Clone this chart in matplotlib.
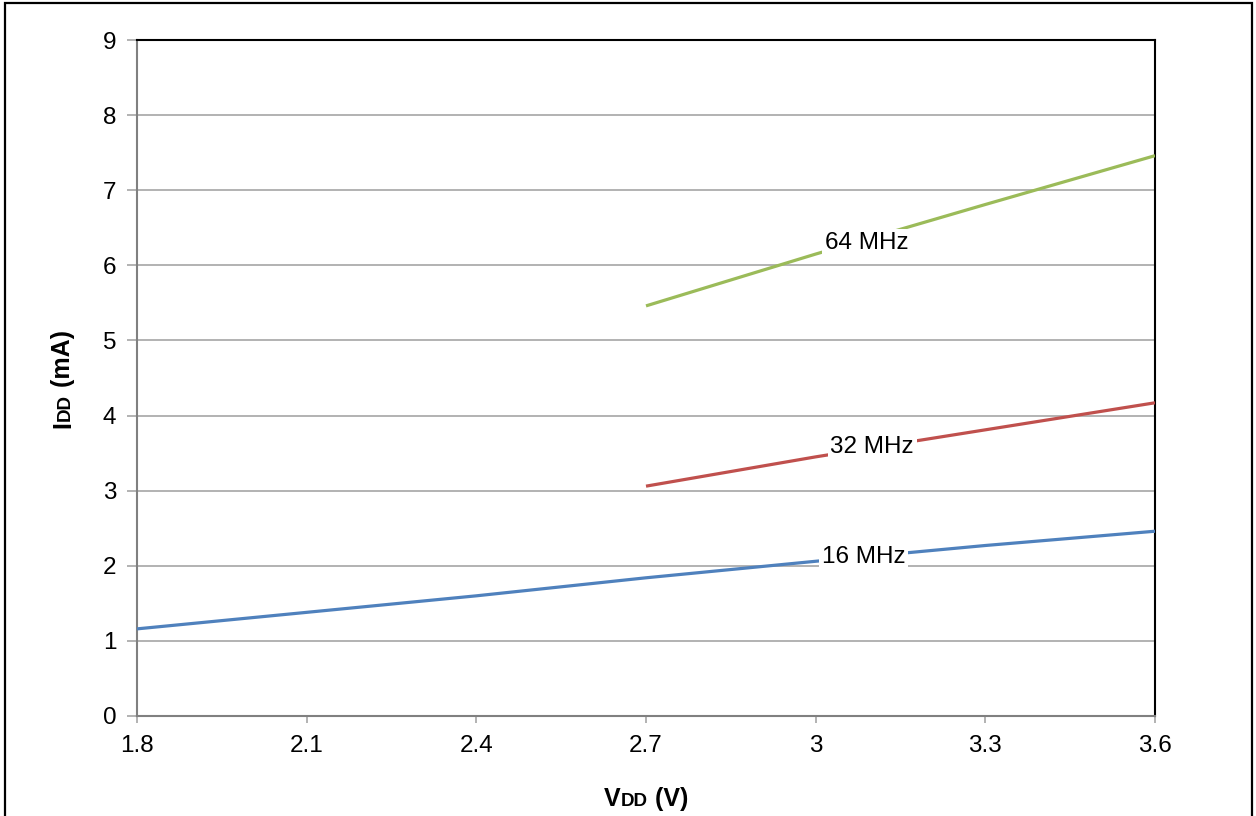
import matplotlib.pyplot as plt
from matplotlib.patches import Rectangle

plt.rcParams['font.family'] = ['Liberation Sans', 'DejaVu Sans']

# supply voltage (V) and supply current (mA)
vdd_16 = [1.8, 2.1, 2.4, 2.7, 3.0, 3.3, 3.6]
idd_16 = [1.16, 1.38, 1.60, 1.84, 2.06, 2.27, 2.46]

vdd_32 = [2.7, 3.0, 3.3, 3.6]
idd_32 = [3.06, 3.45, 3.81, 4.17]

vdd_64 = [2.7, 3.0, 3.3, 3.6]
idd_64 = [5.46, 6.15, 6.81, 7.46]

series_labels = ['16 MHz', '32 MHz', '64 MHz']
label_pos = [(3.085, 2.12), (3.10, 3.58), (3.09, 6.30)]

x_ticks = [1.8, 2.1, 2.4, 2.7, 3.0, 3.3, 3.6]
x_tick_labels = ['1.8', '2.1', '2.4', '2.7', '3', '3.3', '3.6']
y_ticks = [0, 1, 2, 3, 4, 5, 6, 7, 8, 9]

colors = ['#4F81BD', '#C0504D', '#9BBB59']

fig = plt.figure(figsize=(12.56, 8.16), dpi=100)
ax = fig.add_axes([137 / 1256, 100 / 816, 1018 / 1256, 676 / 816])

# frame around the whole figure
fig.patches.append(Rectangle((5 / 1256, -0.05), 1247 / 1256, 1.05 - 3 / 816,
                             transform=fig.transFigure, fill=False,
                             edgecolor='black', linewidth=1.6))

for vx, iy, c in zip([vdd_16, vdd_32, vdd_64], [idd_16, idd_32, idd_64], colors):
    ax.plot(vx, iy, color=c, linewidth=2.3, solid_capstyle='butt', zorder=3)

for txt, (px, py) in zip(series_labels, label_pos):
    ax.text(px, py, txt, fontsize=17.5, ha='center', va='center', zorder=4,
            bbox=dict(facecolor='white', edgecolor='none', pad=2))

ax.set_xlim(1.8, 3.6)
ax.set_ylim(0, 9)
ax.set_xticks(x_ticks)
ax.set_xticklabels(x_tick_labels)
ax.set_yticks(y_ticks)
ax.yaxis.grid(True, color='#a6a6a6', linewidth=1.2)
ax.set_axisbelow(True)

ax.spines['left'].set_color('#808080')
ax.spines['bottom'].set_color('#808080')
ax.spines['left'].set_linewidth(1.5)
ax.spines['bottom'].set_linewidth(1.5)
ax.spines['top'].set_color('black')
ax.spines['right'].set_color('black')
ax.spines['top'].set_linewidth(1.5)
ax.spines['right'].set_linewidth(1.5)

ax.tick_params(axis='y', direction='out', length=7, width=1.2, color='#a6a6a6',
               labelsize=17.5, pad=8)
ax.tick_params(axis='x', direction='out', length=5, width=1.2, color='#a6a6a6',
               labelsize=17.5, pad=9)

# axis titles with small "DD" part
fig.canvas.draw()
renderer = fig.canvas.get_renderer()

def pieces(x0, y0, parts, rotation):
    x, y = x0, y0
    for s, size in parts:
        t = fig.text(x, y, s, fontsize=size, fontweight='bold', rotation=rotation,
                     ha='left', va='baseline', rotation_mode='anchor')
        bb = t.get_window_extent(renderer)
        if rotation == 0:
            x += bb.width / fig.bbox.width
        else:
            y += bb.height / fig.bbox.height

xparts = [('V', 18), ('DD', 13.5), (' (V)', 18)]
pieces(604 / 1256, 10 / 816, xparts, 0)
yparts = [('I', 18), ('DD', 13.5), (' (mA)', 18)]
pieces(70 / 1256, (816 - 428) / 816, yparts, 90)

fig.savefig('out.png', dpi=100)
